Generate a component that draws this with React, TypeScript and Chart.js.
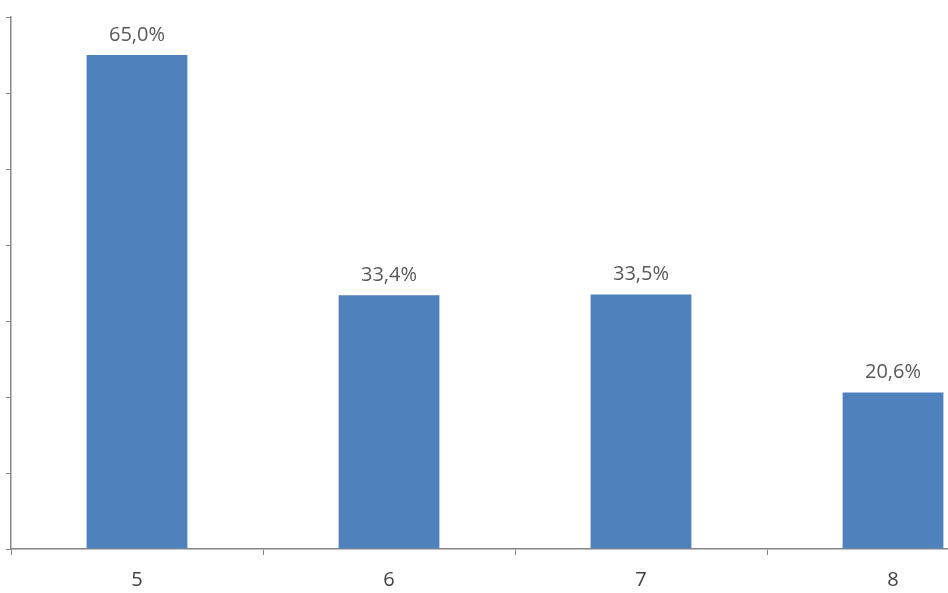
import React, { useEffect, useRef } from "react";
import { Chart, registerables } from "chart.js";

Chart.register(...registerables);

const categories = ["5", "6", "7", "8"];
const values = [65.0, 33.4, 33.5, 20.6];
const yTicks = [0, 10, 20, 30, 40, 50, 60, 70];

const AXIS = "#868686";
const BAR = "#4F81BD";
const TEXT = "#595959";
const FONT = "'Open Sans', 'Noto Sans', sans-serif";

const labelPlugin = {
  id: "barLabels",
  afterDatasetsDraw(chart: any) {
    const ctx = chart.ctx;
    const meta = chart.getDatasetMeta(0);
    ctx.save();
    ctx.fillStyle = TEXT;
    ctx.font = `20px ${FONT}`;
    ctx.textAlign = "center";
    ctx.textBaseline = "alphabetic";
    meta.data.forEach((el: any, i: number) => {
      const txt = values[i].toFixed(1).replace(".", ",") + "%";
      ctx.fillText(txt, el.x, el.y - 14);
    });
    ctx.restore();
  },
};

export default function App() {
  const ref = useRef<HTMLCanvasElement>(null);
  useEffect(() => {
    document.body.style.margin = "0";
    const chart = new Chart(ref.current!, {
      type: "bar",
      data: {
        labels: categories,
        datasets: [
          {
            data: values,
            backgroundColor: BAR,
            borderWidth: 0,
            categoryPercentage: 1,
            barPercentage: 0.4,
          },
        ],
      },
      options: {
        responsive: false,
        animation: false,
        layout: { padding: { top: 17, right: 11, left: 0, bottom: 0 } },
        plugins: { legend: { display: false }, tooltip: { enabled: false } },
        scales: {
          x: {
            grid: {
              drawOnChartArea: false,
              color: AXIS,
              tickLength: 6,
            },
            border: { color: AXIS, width: 1.5 },
            ticks: {
              color: "#404040",
              font: { family: FONT, size: 20 },
              padding: 13,
            },
            afterFit(scale: any) {
              scale.height = 44;
            },
          },
          y: {
            min: 0,
            max: 70,
            afterBuildTicks(scale: any) {
              scale.ticks = yTicks.map((v) => ({ value: v }));
            },
            grid: {
              drawOnChartArea: false,
              color: AXIS,
              tickLength: 5,
            },
            border: { color: AXIS, width: 1.5 },
            ticks: { display: false },
            afterFit(scale: any) {
              scale.width = 11;
            },
          },
        },
      },
      plugins: [labelPlugin],
    });
    return () => chart.destroy();
  }, []);
  return (
    <div style={{ width: 948, height: 593, overflow: "hidden", position: "relative", background: "#fff" }}>
      <canvas ref={ref} width={1030} height={593} style={{ display: "block" }} />
    </div>
  );
}
